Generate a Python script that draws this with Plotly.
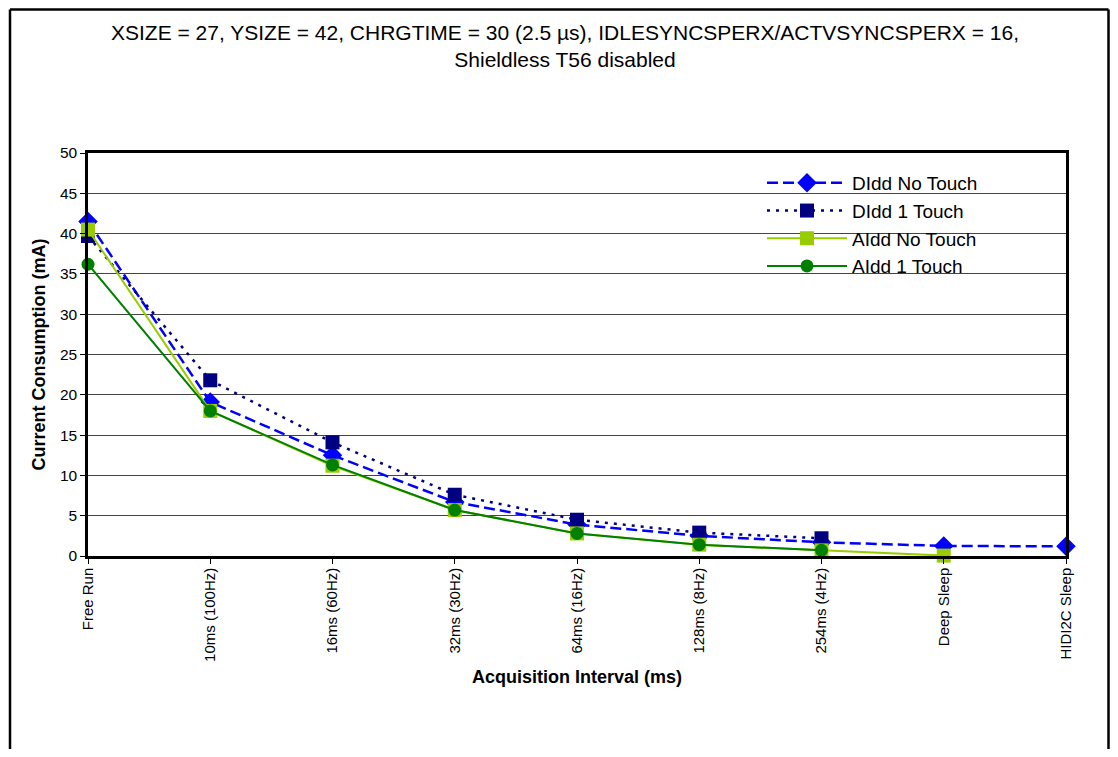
import plotly.graph_objects as go

categories = ["Free Run", "10ms (100Hz)", "16ms (60Hz)", "32ms (30Hz)", "64ms (16Hz)",
              "128ms (8Hz)", "254ms (4Hz)", "Deep Sleep", "HIDI2C Sleep"]
didd_no_touch = [41.5, 19.1, 12.5, 6.7, 3.9, 2.5, 1.7, 1.25, 1.2]
didd_1_touch = [39.7, 21.8, 14.1, 7.6, 4.5, 2.9, 2.2, None, None]
aidd_no_touch = [40.5, 18.0, 11.2, 5.7, 2.8, 1.4, 0.7, 0.05, None]
aidd_1_touch = [36.2, 18.0, 11.3, 5.7, 2.8, 1.4, 0.7, None, None]
y_ticks = list(range(0, 55, 5))

xs = list(range(len(categories)))

FONT = "Liberation Sans, Arial, sans-serif"

# figure geometry (page body adds an 8px margin on every side)
W, H = 1102, 741
L, R, T, B = 80, 44, 145, 193
PW, PH = W - L - R, H - T - B


def px_x(v):
    return (v - L) / PW


def px_y(v):
    return (H - B - v) / PH


fig = go.Figure()
fig.add_trace(go.Scatter(x=xs, y=didd_no_touch, name="DIdd No Touch", mode="lines+markers",
                         line=dict(color="#0000FF", width=2.5, dash="11px,5px"),
                         marker=dict(symbol="diamond", size=15, color="#0000FF"),
                         cliponaxis=False))
fig.add_trace(go.Scatter(x=xs, y=didd_1_touch, name="DIdd 1 Touch", mode="lines+markers",
                         line=dict(color="#000080", width=2.5, dash="3px,6px"),
                         marker=dict(symbol="square", size=14, color="#000080"),
                         cliponaxis=False))
fig.add_trace(go.Scatter(x=xs, y=aidd_no_touch, name="AIdd No Touch", mode="lines+markers",
                         line=dict(color="#99CC00", width=2),
                         marker=dict(symbol="square", size=14, color="#99CC00"),
                         cliponaxis=False))
fig.add_trace(go.Scatter(x=xs, y=aidd_1_touch, name="AIdd 1 Touch", mode="lines+markers",
                         line=dict(color="#008000", width=2),
                         marker=dict(symbol="circle", size=13, color="#008000"),
                         cliponaxis=False))

fig.update_layout(
    width=W, height=H,
    margin=dict(l=L, r=R, t=T, b=B),
    paper_bgcolor="white", plot_bgcolor="white",
    font=dict(family=FONT, color="black"),
    title=dict(text="XSIZE = 27, YSIZE = 42, CHRGTIME = 30 (2.5 µs), IDLESYNCSPERX/ACTVSYNCSPERX = 16,<br>Shieldless T56 disabled",
               x=557 / W, xanchor="center", y=1 - 32 / H, yanchor="top",
               font=dict(size=21, family=FONT)),
    showlegend=True,
    legend=dict(x=px_x(754), y=px_y(156), xanchor="left", yanchor="top",
                bgcolor="rgba(0,0,0,0)", borderwidth=0, font=dict(size=19, family=FONT),
                itemwidth=80, tracegroupgap=0),
)

fig.update_xaxes(
    range=[0, len(categories) - 1], tickmode="array", tickvals=xs, ticktext=categories,
    tickangle=-90, tickfont=dict(size=15), ticks="outside", ticklen=5, tickcolor="black",
    ticklabelstandoff=-2,
    showline=True, linecolor="black", linewidth=2.5, mirror=True, showgrid=False, zeroline=False,
    title=dict(text="<b>Acquisition Interval (ms)</b>", font=dict(size=18), standoff=10),
)
fig.update_yaxes(
    range=[0, 50], tickmode="array", tickvals=y_ticks, tickfont=dict(size=15.5),
    ticks="outside", ticklen=5, tickcolor="black",
    showline=True, linecolor="black", linewidth=2.5, mirror=True,
    showgrid=True, gridcolor="#444444", gridwidth=1, zeroline=False,
    title=dict(text="<b>Current Consumption (mA)</b>", font=dict(size=18), standoff=10),
)

# white legend background box covering gridlines
fig.add_shape(type="rect", xref="paper", yref="paper",
              x0=px_x(747), x1=px_x(1042), y0=px_y(277), y1=px_y(164),
              line=dict(width=0), fillcolor="white", layer="between")

# outer chart frame
frame = dict(color="black", width=2.5)
fx0, fx1, fy_top, fy_bot = px_x(2), px_x(W - 1.5), px_y(1.5), px_y(H + 20)
fig.add_shape(type="line", xref="paper", yref="paper", x0=fx0, x1=fx1, y0=fy_top, y1=fy_top,
              line=frame, layer="above")
fig.add_shape(type="line", xref="paper", yref="paper", x0=fx0, x1=fx0, y0=fy_top, y1=fy_bot,
              line=frame, layer="above")
fig.add_shape(type="line", xref="paper", yref="paper", x0=fx1, x1=fx1, y0=fy_top, y1=fy_bot,
              line=frame, layer="above")

fig.write_html("out.html")
